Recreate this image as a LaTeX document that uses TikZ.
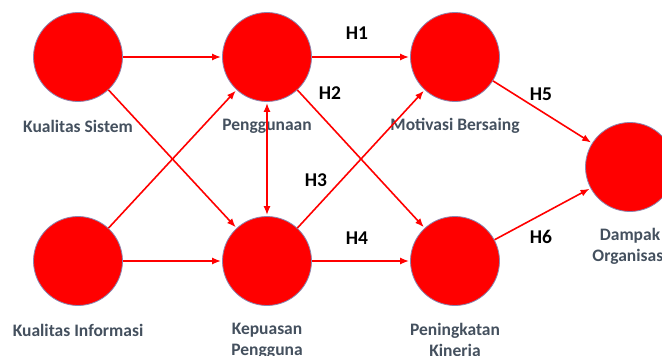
\documentclass[tikz,border=0pt]{standalone}
\usepackage{fontspec}
\setmainfont{Carlito}
\usetikzlibrary{arrows.meta}
\definecolor{nodered}{HTML}{FF0000}
\definecolor{rim}{HTML}{8A86B0}
\definecolor{labelgray}{HTML}{44505E}
\begin{document}
\begin{tikzpicture}[x=1pt,y=-1pt,
  latent/.style={circle,fill=nodered,draw=rim,line width=0.8pt,minimum size=89pt,inner sep=0pt},
  lab/.style={text=labelgray,font=\bfseries\fontsize{17.5}{20.5}\selectfont,align=center},
  hyp/.style={text=black,font=\bfseries\fontsize{19.5}{22}\selectfont},
  link/.style={draw=nodered,line width=1.6pt,-{Latex[length=9pt,width=7pt]},shorten >=1pt},
  blink/.style={draw=nodered,line width=1.6pt,{Latex[length=9pt,width=7pt]}-{Latex[length=9pt,width=7pt]},shorten >=1pt,shorten <=1pt}]
\useasboundingbox (0,0) rectangle (662,356);
\node[latent] (ks) at (78,57) {};
\node[latent] (pg) at (267,57) {};
\node[latent] (mb) at (455,57) {};
\node[latent] (ki) at (78,261) {};
\node[latent] (kp) at (267,261) {};
\node[latent] (pk) at (455,261) {};
\node[latent] (do) at (630,167) {};
\node[lab] (lks) at (78,126) {Kualitas Sistem};
\node[lab] (lpg) at (267,126) {Penggunaan};
\node[lab] (lmb) at (455,126) {Motivasi Bersaing};
\node[lab] (lki) at (78,330) {Kualitas Informasi};
\node[lab,anchor=north] (lkp) at (267,320) {Kepuasan\\Pengguna};
\node[lab,anchor=north] (lpk) at (455,320) {Peningkatan\\Kinerja};
\node[lab,anchor=north] (ldo) at (630,225) {Dampak\\Organisasi};
\draw[link] (ks) -- (pg);
\draw[link] (ks) -- (kp);
\draw[link] (ki) -- (pg);
\draw[link] (ki) -- (kp);
\draw[blink] (pg) -- (kp);
\draw[link] (pg) -- (mb);
\draw[link] (pg) -- (pk);
\draw[link] (kp) -- (mb);
\draw[link] (kp) -- (pk);
\draw[link] (mb) -- (do);
\draw[link] (pk) -- (do);
\node[hyp] (h1) at (357,33) {H1};
\node[hyp] (h2) at (330,93) {H2};
\node[hyp] (h3) at (316,180) {H3};
\node[hyp] (h4) at (357,238) {H4};
\node[hyp] (h5) at (541,94) {H5};
\node[hyp] (h6) at (541,237) {H6};
\end{tikzpicture}
\end{document}
